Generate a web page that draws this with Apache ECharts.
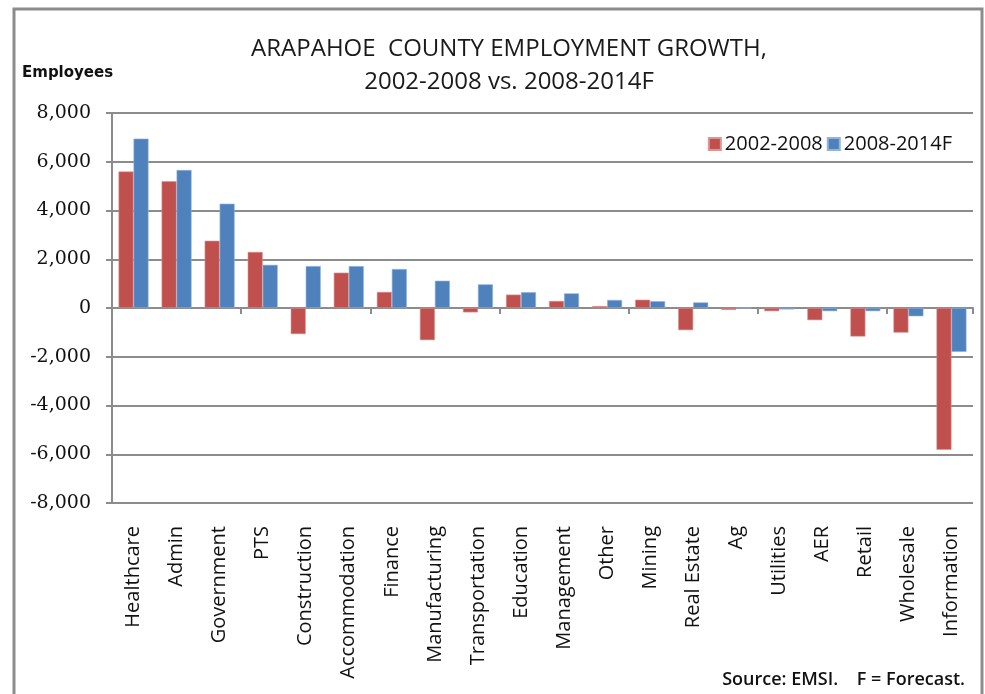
<!DOCTYPE html>
<html>
<head>
<meta charset="utf-8">
<script src="https://cdn.jsdelivr.net/npm/echarts@6/dist/echarts.min.js"></script>
<style>html,body{margin:0;padding:0;background:#fff}#c{width:985px;height:694px}</style>
</head>
<body>
<div id="c"></div>
<script>
const categories = ['Healthcare','Admin','Government','PTS','Construction','Accommodation','Finance','Manufacturing','Transportation','Education','Management','Other','Mining','Real Estate','Ag','Utilities','AER','Retail','Wholesale','Information'];
const growth2002_2008 = [5600, 5200, 2760, 2300, -1070, 1450, 660, -1320, -180, 550, 290, 80, 340, -910, -80, -130, -500, -1170, -1010, -5820];
const growth2008_2014F = [6950, 5660, 4280, 1770, 1720, 1720, 1600, 1120, 970, 650, 600, 330, 280, 230, 0, -60, -130, -130, -340, -1800];
const yTicks = {min: -8000, max: 8000, interval: 2000};
const seriesNames = ['2002-2008', '2008-2014F'];
</script>
<script>
const chart = echarts.init(document.getElementById('c'), null, {renderer: 'canvas'});
const gridColor = '#8c8c8c';
const sansFont = 'Open Sans';
chart.setOption({
  animation: false,
  backgroundColor: '#fff',
  title: {
    text: 'ARAPAHOE  COUNTY EMPLOYMENT GROWTH,\n2002-2008 vs. 2008-2014F',
    left: 504, top: 28, textAlign: 'center',
    textStyle: {fontFamily: sansFont, fontSize: 24, fontWeight: 'normal', color: '#1a1a1a', lineHeight: 33}
  },
  legend: {
    right: 28, top: 129,
    itemWidth: 12, itemHeight: 12, itemGap: 4,
    icon: 'rect',
    textStyle: {fontFamily: sansFont, fontSize: 20, color: '#111', padding: [0,0,0,-1]},
    data: seriesNames
  },
  grid: {left: 112, right: 12, top: 113, bottom: 191},
  xAxis: [{
    type: 'category', data: categories,
    axisLine: {onZero: true, lineStyle: {color: gridColor, width: 2}},
    axisTick: {show: true, length: 6, lineStyle: {color: gridColor, width: 2}},
    axisLabel: {show: false}
  }, {
    type: 'category', data: categories, position: 'bottom',
    axisLine: {show: false, onZero: false},
    axisTick: {show: false},
    axisLabel: {rotate: 90, margin: 23, interval: 0, fontFamily: sansFont, fontSize: 20, color: '#111'}
  }],
  yAxis: {
    type: 'value', min: yTicks.min, max: yTicks.max, interval: yTicks.interval,
    axisLine: {show: true, lineStyle: {color: gridColor, width: 2}},
    axisTick: {show: true, length: 6, lineStyle: {color: gridColor, width: 2}},
    splitLine: {lineStyle: {color: gridColor, width: 2}},
    axisLabel: {
      margin: 21, fontFamily: 'DejaVu Serif', fontSize: 19, color: '#111',
      formatter: v => v.toLocaleString('en-US')
    }
  },
  series: [{
    name: seriesNames[0], type: 'bar', data: growth2002_2008,
    xAxisIndex: 0, barWidth: 15, barGap: '0%',
    itemStyle: {color: '#C0504D', borderColor: '#d99694', borderWidth: 0.6}
  }, {
    name: seriesNames[1], type: 'bar', data: growth2008_2014F,
    xAxisIndex: 0, barWidth: 15, barGap: '0%',
    itemStyle: {color: '#4F81BD', borderColor: '#95b3d7', borderWidth: 0.6}
  }],
  graphic: [
    {type: 'rect', shape: {x: 14, y: 9, width: 968, height: 700}, style: {fill: 'none', stroke: '#8c8c8c', lineWidth: 3}, silent: true},
    {type: 'text', left: 22, top: 66, style: {text: 'Employees', fontFamily: 'DejaVu Sans', fontWeight: 'bold', fontSize: 15, fill: '#111'}},
    {type: 'text', right: 20, top: 671, style: {text: 'Source: EMSI.    F = Forecast.', fontFamily: sansFont, fontWeight: 600, fontSize: 18, fill: '#111'}}
  ]
});
</script>
</body>
</html>
